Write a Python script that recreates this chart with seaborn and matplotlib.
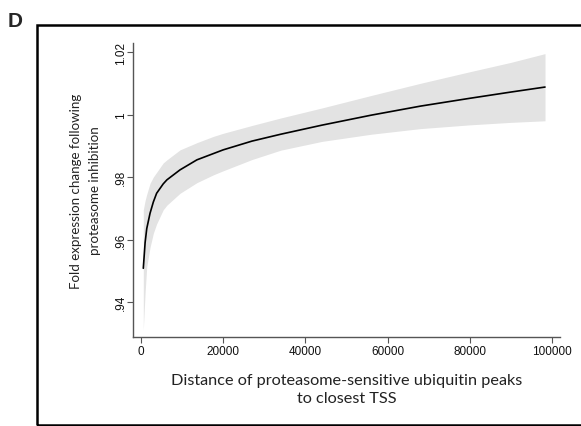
import numpy as np
import pandas as pd
import matplotlib
matplotlib.use("Agg")
import matplotlib.pyplot as plt
from matplotlib.patches import Rectangle
import seaborn as sns

# values (fitted curve with 95% CI band)
distance = [560, 1000, 1400, 2200, 3000, 3800, 5400, 6300, 9500, 13600,
            17600, 20000, 27000, 34000, 44000, 56000, 68000, 80000, 90000, 98300]
fit = [0.9508, 0.9590, 0.9635, 0.9684, 0.9720, 0.9748, 0.9778, 0.9791, 0.9823, 0.9855,
       0.9875, 0.9887, 0.9915, 0.9937, 0.9966, 0.9998, 1.0027, 1.0052, 1.0072, 1.0088]
ci_upper = [0.9695, 0.9725, 0.9745, 0.9780, 0.9800, 0.9815, 0.9845, 0.9855, 0.9887, 0.9910,
            0.9930, 0.9940, 0.9965, 0.9989, 1.0021, 1.0061, 1.0100, 1.0137, 1.0167, 1.0195]
ci_lower = [0.9310, 0.9430, 0.9513, 0.9575, 0.9620, 0.9650, 0.9695, 0.9710, 0.9748, 0.9782,
            0.9807, 0.9820, 0.9856, 0.9886, 0.9914, 0.9937, 0.9955, 0.9967, 0.9975, 0.9980]

x_ticks = [0, 20000, 40000, 60000, 80000, 100000]
y_ticks = [0.94, 0.96, 0.98, 1.0, 1.02]
y_tick_labels = [".94", ".96", ".98", "1", "1.02"]

df = pd.DataFrame({"distance": distance, "fit": fit,
                   "lo": ci_lower, "hi": ci_upper})

sns.set_style("white")
plt.rcParams["font.family"] = ["Liberation Sans", "DejaVu Sans"]

fig = plt.figure(figsize=(5.81, 4.27), dpi=100)
ax = fig.add_axes([133 / 581, 1 - 338 / 427, 427 / 581, 294 / 427])

ax.fill_between(df["distance"], df["lo"], df["hi"], color="#e3e3e3", lw=0)
sns.lineplot(data=df, x="distance", y="fit", ax=ax, color="black", lw=1.2)

ax.set_xlim(-1946, 101946)
ax.set_ylim(0.9288, 1.0229)
ax.set_xticks(x_ticks)
ax.set_xticklabels([str(t) for t in x_ticks], fontsize=8.5)
ax.set_yticks(y_ticks)
ax.set_yticklabels(y_tick_labels, fontsize=8.5, rotation=90, va="center")

for side in ["top", "right"]:
    ax.spines[side].set_visible(False)
for side in ["left", "bottom"]:
    ax.spines[side].set_color("#555555")
    ax.spines[side].set_linewidth(1.0)
ax.tick_params(direction="out", length=4, width=0.8, color="#555555",
               labelcolor="#111111", pad=2, left=True, bottom=True)
ax.tick_params(axis="y", pad=0.5)

ax.set_xlabel("Distance of proteasome-sensitive ubiquitin peaks\nto closest TSS",
              family="Lato", fontsize=11.7, color="#222222", labelpad=11,
              linespacing=1.4)
ax.set_ylabel("Fold expression change following\nproteasome inhibition",
              family="Lato", fontsize=9.6, color="#222222", labelpad=10,
              linespacing=1.65)

# outer panel frame and panel letter
fig.patches.append(Rectangle((37 / 581, 1 / 427), 1.0, 1 - 27 / 427,
                             transform=fig.transFigure, fill=False,
                             edgecolor="black", lw=1.8))
fig.text(8 / 581, 1 - 27 / 427, "D", fontsize=15, fontweight="bold",
         family="Liberation Sans", va="baseline")

fig.savefig("out.png", dpi=100)
